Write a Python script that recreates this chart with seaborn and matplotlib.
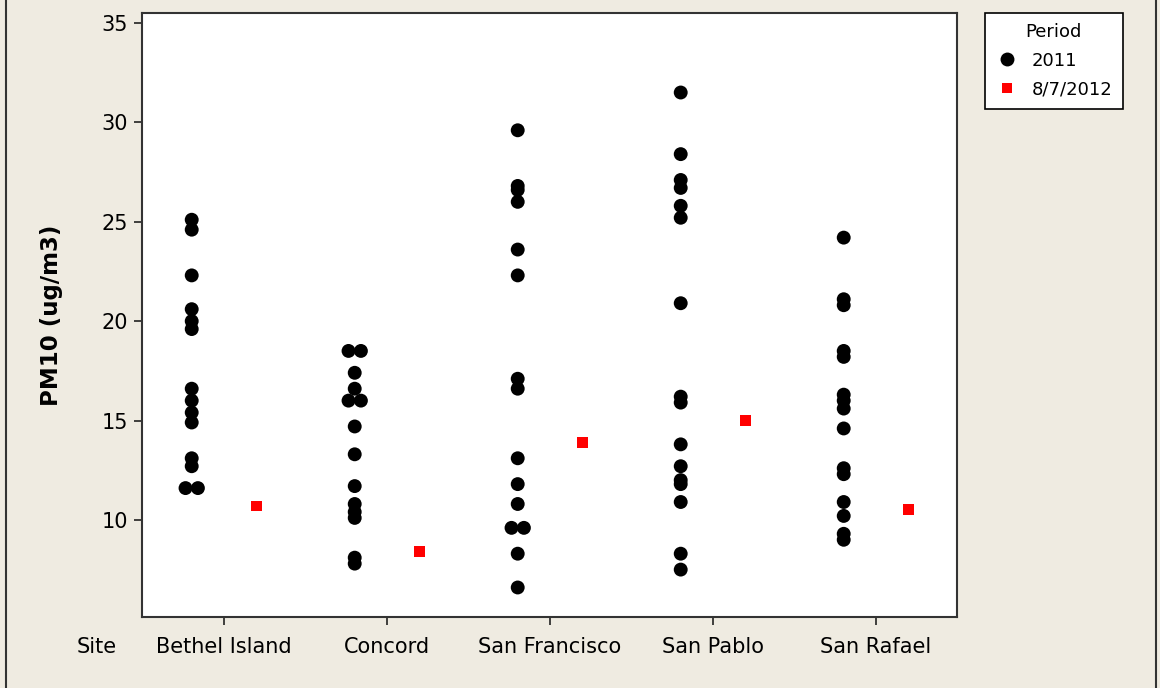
import numpy as np
import pandas as pd
import matplotlib
matplotlib.use('Agg')
from matplotlib import pyplot as plt
from matplotlib.patches import Rectangle
import seaborn as sns

sites = ['Bethel Island', 'Concord', 'San Francisco', 'San Pablo', 'San Rafael']
periods = ['2011', '8/7/2012']

bethel_2011 = [25.1, 24.6, 22.3, 20.6, 20.0, 19.6, 16.6, 16.0, 15.4, 14.9, 13.1, 12.7, 11.6, 11.6]
concord_2011 = [18.5, 18.5, 17.4, 16.6, 16.0, 16.0, 14.7, 13.3, 11.7, 10.8, 10.4, 10.1, 8.1, 7.8]
sanfran_2011 = [29.6, 26.8, 26.6, 26.0, 23.6, 22.3, 17.1, 16.6, 13.1, 11.8, 10.8, 9.6, 9.6, 8.3, 6.6]
sanpablo_2011 = [31.5, 28.4, 27.1, 26.7, 25.8, 25.2, 20.9, 16.2, 15.9, 13.8, 12.7, 12.0, 11.8, 10.9, 8.3, 7.5]
sanrafael_2011 = [24.2, 21.1, 20.8, 18.5, 18.2, 16.3, 16.0, 15.6, 14.6, 12.6, 12.3, 10.9, 10.2, 9.3, 9.0]
pm10_2012 = [10.7, 8.4, 13.9, 15.0, 10.5]

values_2011 = [bethel_2011, concord_2011, sanfran_2011, sanpablo_2011, sanrafael_2011]

rows = []
for site, vals in zip(sites, values_2011):
    for v in vals:
        rows.append((site, '2011', v))
for site, v in zip(sites, pm10_2012):
    rows.append((site, '8/7/2012', v))
df = pd.DataFrame(rows, columns=['Site', 'Period', 'PM10'])

# dodge the two periods, and spread identical values side by side like Minitab does
site_idx = df['Site'].map({s: i for i, s in enumerate(sites)})
period_off = df['Period'].map({'2011': -0.195, '8/7/2012': 0.2})
rank = df.groupby(['Site', 'Period', 'PM10']).cumcount()
count = df.groupby(['Site', 'Period', 'PM10'])['PM10'].transform('size')
df['x'] = site_idx + period_off + (rank - (count - 1) / 2) * 0.076

bg = '#efebe1'
fig = plt.figure(figsize=(11.6, 6.88), dpi=100, facecolor=bg)
ax = fig.add_axes([142 / 1160, 70.7 / 688, 815 / 1160, 604.3 / 688])
ax.set_facecolor('white')

sns.scatterplot(data=df, x='x', y='PM10', hue='Period', style='Period', size='Period',
                palette={'2011': 'black', '8/7/2012': '#ff0000'},
                markers={'2011': 'o', '8/7/2012': 's'},
                sizes={'2011': 100, '8/7/2012': 62},
                hue_order=periods, style_order=periods, size_order=periods,
                edgecolor='none', linewidth=0, ax=ax)

ax.set_xlim(-0.5, 4.5)
ax.set_ylim(5.1, 35.5)
ax.set_xticks(range(len(sites)))
ax.set_xticklabels(sites)
ax.set_yticks([10, 15, 20, 25, 30, 35])
ax.set_xlabel('')
ax.set_ylabel('PM10 (ug/m3)', fontsize=16.5, fontweight='bold', labelpad=28)
ax.tick_params(axis='both', direction='out', length=6, width=1.2, colors='#222222',
               labelsize=15, labelcolor='black')
ax.tick_params(axis='x', pad=8)
ax.tick_params(axis='y', pad=4)
for sp in ax.spines.values():
    sp.set_color('#333333')
    sp.set_linewidth(1.5)

ax.text(-0.055, -0.049, 'Site', transform=ax.transAxes, ha='center', va='center', fontsize=15)

handles, labels = ax.get_legend_handles_labels()
leg = ax.legend(handles, labels, title='Period', loc='upper left',
                bbox_to_anchor=(985 / 1160, 1 - 13 / 688), bbox_transform=fig.transFigure,
                fontsize=13, title_fontsize=13, frameon=True, fancybox=False,
                edgecolor='black', framealpha=1, borderpad=0.55, handletextpad=0.75,
                labelspacing=0.6, handlelength=1.3, borderaxespad=0)
leg.get_frame().set_linewidth(1.2)

fig.patches.append(Rectangle((6 / 1160, -0.01), 1150 / 1160, 1.02, transform=fig.transFigure,
                             fill=False, edgecolor='#333333', linewidth=1.5))

fig.savefig('out.png', dpi=100, facecolor=bg)
